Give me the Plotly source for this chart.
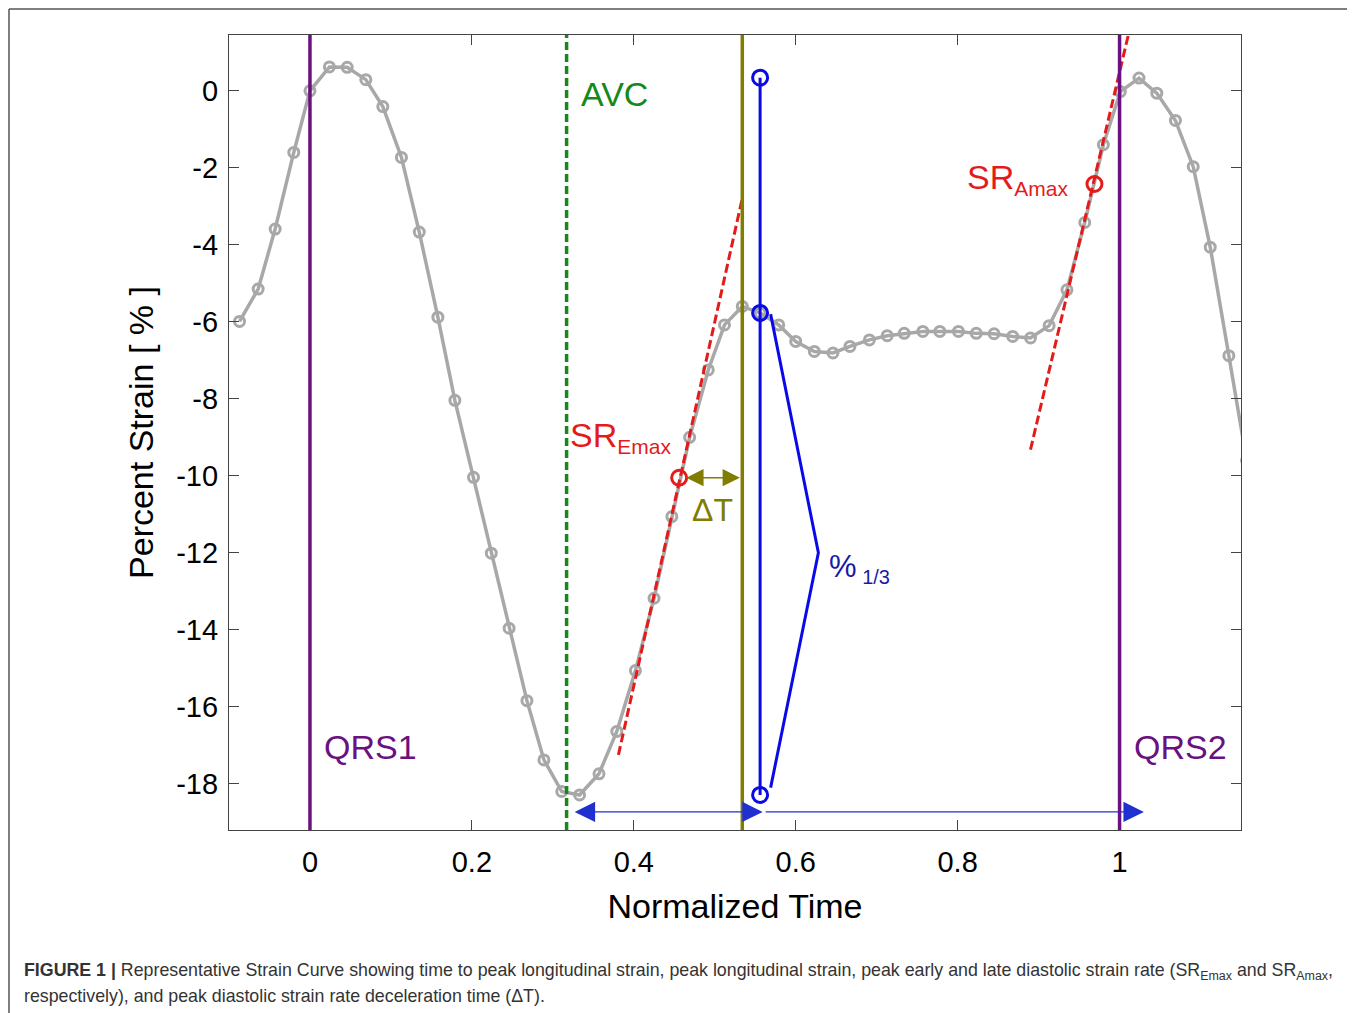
import plotly.graph_objects as go

# strain curve (normalized time, percent strain)
time_norm = [-0.087, -0.064, -0.043, -0.020, 0.000, 0.024, 0.046, 0.069, 0.090, 0.113,
             0.135, 0.158, 0.179, 0.202, 0.224, 0.246, 0.268, 0.289, 0.311, 0.333,
             0.357, 0.379, 0.402, 0.425, 0.447, 0.469, 0.492, 0.512, 0.534, 0.556,
             0.579, 0.600, 0.623, 0.646, 0.667, 0.691, 0.713, 0.734, 0.757, 0.778,
             0.801, 0.823, 0.845, 0.868, 0.890, 0.913, 0.935, 0.957, 0.980, 1.001,
             1.024, 1.046, 1.069, 1.091, 1.112, 1.135, 1.157]
strain_pct = [-5.99, -5.15, -3.59, -1.60, 0.00, 0.62, 0.61, 0.29, -0.41, -1.73,
              -3.67, -5.88, -8.04, -10.04, -12.01, -13.96, -15.84, -17.38, -18.20, -18.29,
              -17.74, -16.64, -15.06, -13.18, -11.06, -9.00, -7.25, -6.08, -5.60, -5.77,
              -6.08, -6.51, -6.77, -6.81, -6.64, -6.47, -6.36, -6.30, -6.25, -6.25,
              -6.25, -6.30, -6.31, -6.38, -6.42, -6.10, -5.17, -3.42, -1.40, -0.02,
              0.33, -0.06, -0.77, -1.97, -4.06, -6.88, -9.60]

# event markers
qrs_times = [0.0, 1.0]
qrs_labels = ["QRS1", "QRS2"]
avc_time = 0.317
peak_rate_time = 0.534          # olive line
peak_strain_time = 0.556        # blue vertical line
peak_strain_y = [0.34, -5.77, -18.29]
third_x = [0.569, 0.628, 0.569]
third_y = [-5.80, -12.00, -18.10]

# tangents (dashed red) and SR points
sr_e_line_x = [0.381, 0.534]
sr_e_line_y = [-17.25, -2.79]
sr_e_point = (0.456, -10.05)
sr_a_line_x = [0.890, 1.0125]
sr_a_line_y = [-9.32, 1.60]
sr_a_point = (0.969, -2.42)

# arrows
delta_t_x = [0.463, 0.531]
delta_t_y = -10.05
span_y = -18.73
span_x = [0.327, 0.561, 1.030]

x_ticks = [0, 0.2, 0.4, 0.6, 0.8, 1]
x_ticktext = ["0", "0.2", "0.4", "0.6", "0.8", "1"]
y_ticks = [0, -2, -4, -6, -8, -10, -12, -14, -16, -18]
y_ticktext = ["0", "-2", "-4", "-6", "-8", "-10", "-12", "-14", "-16", "-18"]

PURPLE = "#6b1080"
GREEN = "#17891a"
OLIVE = "#807d00"
GRAY = "#a8a8a8"
RED = "#e41b1b"
BLUE = "#0a0ae6"
FONT = "Liberation Sans, Arial, sans-serif"

fig = go.Figure()

# vertical event lines
for t in qrs_times:
    fig.add_shape(type="line", xref="x", yref="paper", x0=t, x1=t, y0=0, y1=1,
                  line=dict(color=PURPLE, width=3.5))
fig.add_shape(type="line", xref="x", yref="paper", x0=avc_time, x1=avc_time, y0=0, y1=1,
              line=dict(color=GREEN, width=3.5, dash="8px,4px"))
fig.add_shape(type="line", xref="x", yref="paper", x0=peak_rate_time, x1=peak_rate_time,
              y0=0, y1=1, line=dict(color=OLIVE, width=3.5))

# strain curve
fig.add_trace(go.Scatter(
    x=time_norm, y=strain_pct, mode="lines+markers",
    line=dict(color=GRAY, width=3.5),
    marker=dict(symbol="circle-open", size=10, color=GRAY, line=dict(width=3)),
    showlegend=False
))

# tangents
fig.add_trace(go.Scatter(x=sr_e_line_x, y=sr_e_line_y, mode="lines",
                         line=dict(color=RED, width=3, dash="9px,4px"), showlegend=False))
fig.add_trace(go.Scatter(x=sr_a_line_x, y=sr_a_line_y, mode="lines",
                         line=dict(color=RED, width=3, dash="9px,4px"), showlegend=False))
fig.add_trace(go.Scatter(x=[sr_e_point[0], sr_a_point[0]], y=[sr_e_point[1], sr_a_point[1]],
                         mode="markers", showlegend=False,
                         marker=dict(symbol="circle-open", size=15, color=RED, line=dict(width=3))))

# peak strain / one-third lines
fig.add_trace(go.Scatter(x=[peak_strain_time] * 3, y=peak_strain_y, mode="lines+markers",
                         line=dict(color=BLUE, width=3), showlegend=False,
                         marker=dict(symbol="circle-open", size=15, color=BLUE, line=dict(width=3))))
fig.add_trace(go.Scatter(x=third_x, y=third_y, mode="lines",
                         line=dict(color=BLUE, width=3), showlegend=False))

# arrows
arrow_common = dict(xref="x", yref="y", axref="x", ayref="y", text="", showarrow=True,
                    arrowhead=2, standoff=0, startstandoff=0)
fig.add_annotation(x=delta_t_x[1], y=delta_t_y, ax=delta_t_x[0], ay=delta_t_y,
                   arrowside="end+start", arrowcolor=OLIVE, arrowwidth=1.5, arrowsize=2.3,
                   **arrow_common)
fig.add_annotation(x=span_x[0], y=span_y, ax=span_x[1], ay=span_y,
                   arrowside="end+start", arrowcolor="#2030d0", arrowwidth=1.2, arrowsize=3.4,
                   **arrow_common)
fig.add_annotation(x=span_x[2], y=span_y, ax=span_x[1], ay=span_y,
                   arrowside="end", arrowcolor="#2030d0", arrowwidth=1.2, arrowsize=3.4,
                   **arrow_common)

# labels
for t, lab in zip(qrs_times, qrs_labels):
    fig.add_annotation(x=t + 0.015, y=-17.04, text=lab, showarrow=False, xanchor="left",
                       font=dict(size=34, color=PURPLE, family=FONT))
fig.add_annotation(x=avc_time + 0.015, y=-0.08, text="AVC", showarrow=False, xanchor="left",
                   font=dict(size=34, color=GREEN, family=FONT))
fig.add_annotation(x=0.319, y=-8.98,
                   text="SR<sub><span style='font-size:21px'>Emax</span></sub>",
                   showarrow=False, xanchor="left",
                   font=dict(size=34, color=RED, family=FONT))
fig.add_annotation(x=0.809, y=-2.29,
                   text="SR<sub><span style='font-size:21px'>Amax</span></sub>",
                   showarrow=False, xanchor="left",
                   font=dict(size=34, color=RED, family=FONT))
fig.add_annotation(x=0.497, y=-10.9, text="\u0394T", showarrow=False,
                   font=dict(size=32, color=OLIVE, family=FONT))
fig.add_annotation(x=0.639, y=-12.42,
                   text="%<sub><span style='font-size:20px'> 1/3</span></sub>",
                   showarrow=False, xanchor="left",
                   font=dict(size=31, color="#1a1aa8", family=FONT))

# caption
fig.add_annotation(xref="paper", yref="paper", x=-0.2045, y=-0.1786, xanchor="left",
                   yanchor="middle", showarrow=False, align="left",
                   text="<b>FIGURE 1 |</b> Representative Strain Curve showing time to peak longitudinal strain, "
                        "peak longitudinal strain, peak early and late diastolic strain rate "
                        "(SR<sub>Emax</sub> and SR<sub>Amax</sub>,",
                   font=dict(size=17.8, color="#333333", family=FONT))
fig.add_annotation(xref="paper", yref="paper", x=-0.2045, y=-0.2088, xanchor="left",
                   yanchor="middle", showarrow=False, align="left",
                   text="respectively), and peak diastolic strain rate deceleration time (\u0394T).",
                   font=dict(size=17.8, color="#333333", family=FONT))

# outer frame of the figure panel
fig.add_shape(type="line", xref="paper", yref="paper", x0=-0.2174, x1=-0.2174, y0=1.0327, y1=-0.3,
              line=dict(color="#555555", width=1.5))
fig.add_shape(type="line", xref="paper", yref="paper", x0=-0.2174, x1=1.2, y0=1.0327, y1=1.0327,
              line=dict(color="#555555", width=1.5))

axis_common = dict(showline=True, linecolor="#444444", linewidth=1.2, mirror="ticks",
                   ticks="inside", ticklen=10, tickcolor="#444444", showgrid=False,
                   zeroline=False, tickfont=dict(size=29, color="black", family=FONT))
fig.update_xaxes(range=[-0.1, 1.15], tickvals=x_ticks, ticktext=x_ticktext,
                 ticklabelstandoff=6,
                 title=dict(text="Normalized Time", standoff=17,
                            font=dict(size=34, color="black", family=FONT)),
                 **axis_common)
fig.update_yaxes(range=[-19.2, 1.45], tickvals=y_ticks, ticktext=y_ticktext,
                 ticklabelstandoff=4,
                 title=dict(text="Percent Strain [ % ]", standoff=12,
                            font=dict(size=34, color="black", family=FONT)),
                 **axis_common)

fig.update_layout(
    width=1355, height=1013,
    margin=dict(l=221, r=122, t=27, b=191, autoexpand=False),
    paper_bgcolor="white", plot_bgcolor="white",
    showlegend=False,
    font=dict(family=FONT)
)

fig.write_html("out.html")
